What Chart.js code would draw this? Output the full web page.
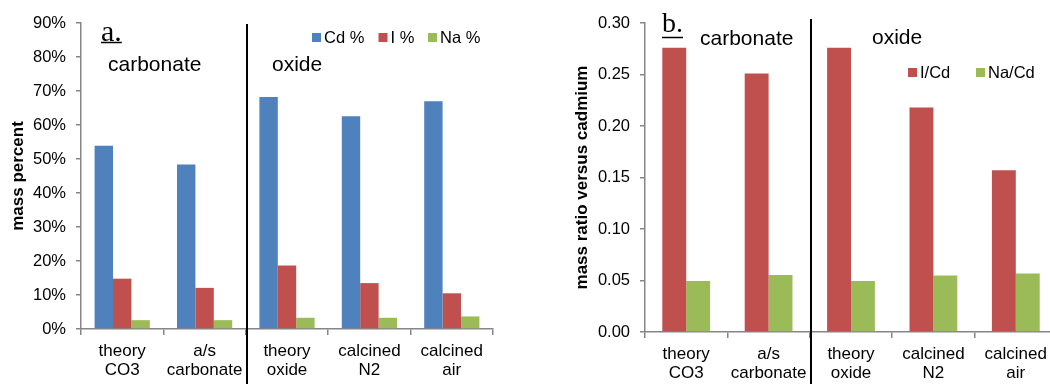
<!DOCTYPE html>
<html>
<head>
<meta charset="utf-8">
<script src="https://cdn.jsdelivr.net/npm/chart.js@4.4.0/dist/chart.umd.min.js"></script>
<style>
  html, body { margin: 0; padding: 0; background: #fff; overflow: hidden; }
  #wrap { position: relative; width: 1050px; height: 384px; overflow: hidden; }
  #massChart { position: absolute; left: 0; top: 0; }
  #ratioChart { position: absolute; left: 525px; top: 0; }
</style>
</head>
<body>
<div id="wrap">
  <canvas id="massChart" width="525" height="384"></canvas>
  <canvas id="ratioChart" width="560" height="384"></canvas>
</div>
<script>
// sample categories (two-line x labels)
const samples = [['theory', 'CO3'], ['a/s', 'carbonate'], ['theory', 'oxide'], ['calcined', 'N2'], ['calcined', 'air']];

// panel a: mass percent
const cdPercent = [53.9, 48.4, 68.2, 62.6, 67.0];
const iPercent = [14.8, 12.1, 18.7, 13.5, 10.5];
const naPercent = [2.6, 2.6, 3.3, 3.3, 3.7];
const massTickLabels = ['0%', '10%', '20%', '30%', '40%', '50%', '60%', '70%', '80%', '90%'];

// panel b: mass ratio versus cadmium
const iPerCd = [0.276, 0.251, 0.276, 0.218, 0.157];
const naPerCd = [0.0495, 0.0553, 0.0495, 0.0548, 0.0567];
const ratioTickLabels = ['0.00', '0.05', '0.10', '0.15', '0.20', '0.25', '0.30'];

const BLUE = '#4F81BD';
const RED = '#C0504D';
const GREEN = '#9BBB59';
const AXIS = '#868686';
const SANS = 'Arial, "Liberation Sans", sans-serif';
const SERIF = '"Times New Roman", "Liberation Serif", serif';

Chart.defaults.font.family = SANS;
Chart.defaults.color = '#000';
Chart.defaults.animation = false;

// draws panel letter, group headings, divider and legend
function panelOverlay(cfg) {
    return {
        id: 'panelOverlay',
        afterDraw(chart) {
            const ctx = chart.ctx;
            const xScale = chart.scales.x;
            ctx.save();

            const divX = Math.round(xScale.getPixelForValue(1.5)) + 1;
            ctx.strokeStyle = '#000';
            ctx.lineWidth = 2;
            ctx.beginPath();
            ctx.moveTo(divX, cfg.dividerTop);
            ctx.lineTo(divX, chart.height);
            ctx.stroke();

            ctx.fillStyle = '#000';
            ctx.textBaseline = 'alphabetic';
            ctx.textAlign = 'left';
            ctx.font = `${cfg.letter.size}px ${SERIF}`;
            ctx.fillText(cfg.letter.text, cfg.letter.x, cfg.letter.y);
            const w = ctx.measureText(cfg.letter.text).width;
            ctx.lineWidth = 1.5;
            ctx.beginPath();
            ctx.moveTo(cfg.letter.x, cfg.letter.y + cfg.letter.under);
            ctx.lineTo(cfg.letter.x + w, cfg.letter.y + cfg.letter.under);
            ctx.stroke();

            ctx.font = `21px ${SANS}`;
            cfg.headings.forEach(h => ctx.fillText(h.text, h.x, h.y));

            ctx.font = `16.5px ${SANS}`;
            chart.data.datasets.forEach((ds, i) => {
                const lx = cfg.legend.xs[i];
                ctx.fillStyle = ds.backgroundColor;
                ctx.fillRect(lx, cfg.legend.y - 9, 9, 9);
                ctx.fillStyle = '#000';
                ctx.fillText(ds.label, lx + 12, cfg.legend.y + 1);
            });
            ctx.restore();
        }
    };
}

function xAxis(height) {
    return {
        type: 'category',
        offset: true,
        border: { color: AXIS, width: 1.5 },
        grid: { display: true, offset: true, drawOnChartArea: false, color: AXIS, lineWidth: 1.5, tickLength: 6 },
        ticks: { font: { size: 17, lineHeight: 1.1 }, maxRotation: 0, autoSkip: false, padding: 7 },
        afterFit(scale) { scale.height = height; }
    };
}

function yAxis(width, max, step, labels, title, titlePad) {
    return {
        min: 0,
        max: max,
        border: { color: AXIS, width: 1.5 },
        grid: { display: true, drawOnChartArea: false, color: AXIS, lineWidth: 1.5, tickLength: 5 },
        ticks: {
            stepSize: step,
            font: { size: 16.5 },
            padding: 10,
            callback: (v, i) => labels[i]
        },
        title: { display: true, text: title, font: { size: 17, weight: 'bold' }, padding: { top: titlePad, bottom: 0 } },
        afterFit(scale) { scale.width = width; }
    };
}

new Chart(document.getElementById('massChart'), {
    type: 'bar',
    data: {
        labels: samples,
        datasets: [
            { label: 'Cd %', data: cdPercent, backgroundColor: BLUE },
            { label: 'I %', data: iPercent, backgroundColor: RED },
            { label: 'Na %', data: naPercent, backgroundColor: GREEN }
        ]
    },
    options: {
        responsive: false,
        datasets: { bar: { categoryPercentage: 0.67, barPercentage: 1 } },
        layout: { padding: { left: 0, right: 32, top: 23, bottom: 0 } },
        plugins: { legend: { display: false }, tooltip: { enabled: false } },
        scales: {
            x: xAxis(55),
            y: yAxis(81, 90, 10, massTickLabels, 'mass percent', 8)
        }
    },
    plugins: [panelOverlay({
        dividerTop: 24,
        letter: { text: 'a.', size: 30, x: 101, y: 40.5, under: 2 },
        headings: [{ text: 'carbonate', x: 108, y: 71 }, { text: 'oxide', x: 272, y: 71 }],
        legend: { xs: [312, 378.5, 428], y: 42 }
    })]
});

new Chart(document.getElementById('ratioChart'), {
    type: 'bar',
    data: {
        labels: samples,
        datasets: [
            { label: 'I/Cd', data: iPerCd, backgroundColor: RED },
            { label: 'Na/Cd', data: naPerCd, backgroundColor: GREEN }
        ]
    },
    options: {
        responsive: false,
        datasets: { bar: { categoryPercentage: 0.58, barPercentage: 1 } },
        layout: { padding: { left: 0, right: 28, top: 23, bottom: 0 } },
        plugins: { legend: { display: false }, tooltip: { enabled: false } },
        scales: {
            x: xAxis(52),
            y: yAxis(120, 0.3, 0.05, ratioTickLabels, 'mass ratio versus cadmium', 47)
        }
    },
    plugins: [panelOverlay({
        dividerTop: 19,
        letter: { text: 'b.', size: 28, x: 137, y: 32, under: 5.5 },
        headings: [{ text: 'carbonate', x: 175, y: 45 }, { text: 'oxide', x: 347, y: 44 }],
        legend: { xs: [383, 451], y: 77 }
    })]
});
</script>
</body>
</html>
